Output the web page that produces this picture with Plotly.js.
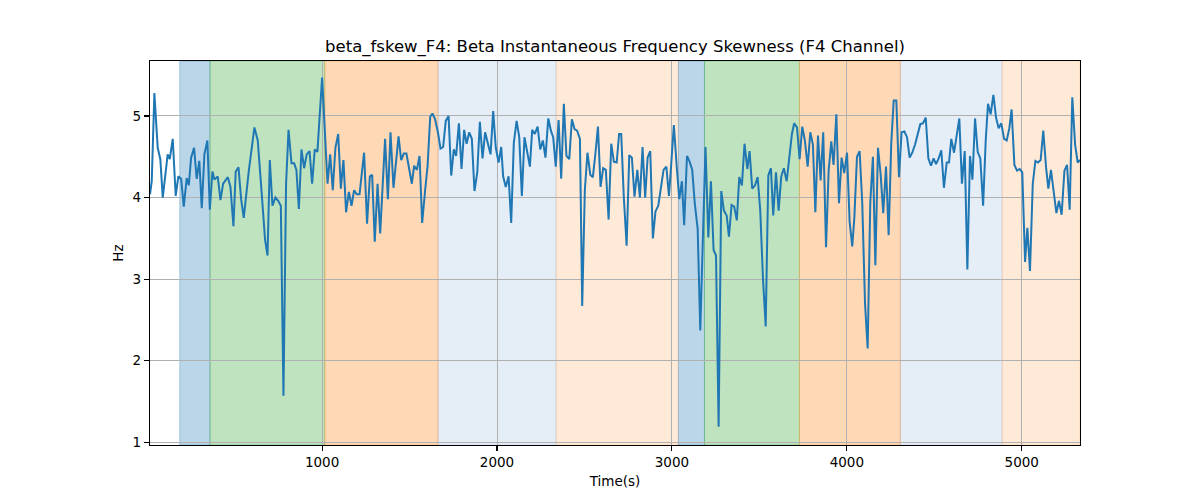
<!DOCTYPE html>
<html>
<head>
<meta charset="utf-8">
<script src="https://cdn.plot.ly/plotly-3.0.1.min.js"></script>
<style>
  html, body { margin: 0; padding: 0; background: #fff; }
  #chart { width: 1200px; height: 500px; }
</style>
</head>
<body>
<div id="chart"></div>
<script>
// Sample times (s) and beta skewness values (Hz)
const timeSec = [
  16, 26, 41, 60, 75, 89, 117, 129, 146, 163, 178, 194, 209, 226, 238, 251, 268, 283, 298, 312,
  327, 344, 358, 373, 384, 403, 419, 434, 461, 476, 493, 506, 522, 537, 552, 581, 613, 632, 655, 674,
  688, 701, 716, 733, 749, 764, 779, 794, 808, 825, 840, 853, 867, 882, 897, 912, 928, 943, 958, 973,
  1000, 1031, 1046, 1061, 1076, 1092, 1107, 1122, 1137, 1153, 1168, 1183, 1198, 1214, 1240, 1257, 1273, 1286, 1301, 1317,
  1332, 1360, 1376, 1391, 1408, 1437, 1452, 1467, 1482, 1498, 1513, 1526, 1542, 1557, 1572, 1589, 1603, 1618, 1631, 1646,
  1662, 1677, 1692, 1707, 1723, 1738, 1753, 1766, 1782, 1797, 1812, 1826, 1841, 1856, 1871, 1887, 1902, 1917, 1932, 1947,
  1963, 1978, 1993, 2009, 2024, 2035, 2050, 2066, 2081, 2096, 2112, 2127, 2142, 2157, 2173, 2188, 2201, 2216, 2232, 2247,
  2262, 2277, 2293, 2308, 2321, 2336, 2352, 2367, 2382, 2397, 2413, 2428, 2443, 2458, 2474, 2487, 2502, 2517, 2533, 2548,
  2563, 2577, 2592, 2607, 2622, 2638, 2653, 2668, 2684, 2698, 2710, 2725, 2741, 2756, 2771, 2786, 2802, 2817, 2832, 2847,
  2861, 2876, 2891, 2906, 2922, 2937, 2952, 2968, 2983, 2996, 3011, 3027, 3042, 3057, 3070, 3086, 3101, 3116, 3131, 3147,
  3162, 3177, 3192, 3208, 3223, 3238, 3252, 3267, 3282, 3297, 3313, 3326, 3341, 3356, 3371, 3385, 3400, 3415, 3431, 3444,
  3459, 3475, 3490, 3505, 3520, 3536, 3551, 3566, 3579, 3595, 3610, 3625, 3640, 3656, 3671, 3686, 3699, 3715, 3730, 3745,
  3760, 3776, 3791, 3806, 3820, 3835, 3850, 3865, 3881, 3896, 3911, 3924, 3940, 3955, 3970, 3985, 4001, 4016, 4031, 4043,
  4058, 4073, 4088, 4104, 4119, 4134, 4149, 4163, 4178, 4193, 4208, 4224, 4239, 4254, 4268, 4283, 4298, 4313, 4329, 4344,
  4359, 4374, 4390, 4405, 4420, 4435, 4451, 4466, 4481, 4496, 4510, 4525, 4540, 4555, 4571, 4584, 4597, 4613, 4628, 4643,
  4658, 4674, 4689, 4704, 4718, 4733, 4748, 4763, 4779, 4794, 4807, 4822, 4838, 4853, 4868, 4883, 4899, 4914, 4929, 4942,
  4958, 4973, 4988, 5003, 5019, 5032, 5047, 5063, 5078, 5093, 5108, 5123, 5139, 5152, 5167, 5183, 5198, 5213, 5228, 5244,
  5259, 5274, 5289, 5305, 5320, 5333
];

const skewHz = [
  4.04, 4.2, 5.28, 4.61, 4.47, 4.0, 4.53, 4.47, 4.72, 4.02, 4.26, 4.23, 3.89, 4.24, 4.15, 4.49, 4.61, 4.23, 4.45, 3.87,
  4.53, 4.70, 3.85, 4.32, 4.22, 4.26, 3.97, 4.17, 4.25, 4.13, 3.65, 4.32, 4.37, 3.98, 3.75, 4.33, 4.86, 4.70, 4.04, 3.48,
  3.29, 4.46, 3.90, 4.0, 3.96, 3.90, 1.57, 4.17, 4.83, 4.42, 4.42, 4.34, 3.86, 4.59, 4.36, 4.53, 4.57, 4.17, 4.59, 4.56,
  5.47, 4.17, 4.53, 4.09, 4.61, 4.78, 4.11, 4.46, 3.82, 4.07, 3.90, 4.09, 4.04, 4.04, 4.55, 3.68, 4.26, 4.28, 3.46, 4.17,
  3.56, 4.72, 3.98, 4.80, 4.12, 4.75, 4.46, 4.54, 4.54, 4.35, 4.17, 4.39, 4.34, 4.51, 3.69, 4.09, 4.39, 4.99, 5.03, 4.96,
  4.80, 4.60, 4.62, 4.94, 5.0, 4.27, 4.59, 4.51, 4.91, 4.35, 4.83, 4.66, 4.80, 4.72, 4.08, 4.31, 4.93, 4.48, 4.80, 4.67,
  4.53, 5.06, 4.61, 4.43, 4.62, 4.26, 4.13, 4.26, 3.69, 4.67, 4.94, 4.74, 4.02, 4.74, 4.57, 4.38, 4.83, 4.78, 4.87, 4.59,
  4.70, 4.49, 4.97, 4.82, 4.74, 4.38, 4.95, 4.23, 5.15, 4.51, 4.47, 4.96, 4.84, 4.82, 4.72, 2.67, 4.09, 4.55, 4.28, 4.25,
  4.55, 4.87, 4.13, 4.36, 4.34, 3.73, 4.66, 4.44, 4.43, 4.78, 4.78, 4.0, 3.41, 4.52, 4.49, 4.01, 4.34, 4.0, 4.62, 4.0,
  4.49, 4.57, 3.50, 3.83, 3.90, 4.15, 4.34, 4.38, 4.02, 4.41, 4.89, 4.39, 3.98, 4.20, 3.66, 4.51, 4.44, 4.34, 3.92, 3.62,
  2.37, 3.50, 4.62, 3.51, 4.20, 3.36, 3.29, 1.19, 4.08, 3.84, 3.78, 3.52, 3.91, 3.89, 3.72, 4.25, 4.15, 4.66, 4.35, 4.57,
  4.11, 4.15, 4.25, 3.84, 3.03, 2.42, 4.27, 4.36, 3.78, 4.31, 3.84, 4.26, 4.36, 4.20, 4.53, 4.78, 4.91, 4.86, 4.47, 4.87,
  4.70, 4.38, 4.80, 4.65, 3.82, 4.76, 4.21, 4.80, 3.39, 4.33, 4.69, 4.40, 5.02, 3.93, 4.49, 4.30, 4.55, 3.70, 3.40, 3.76,
  4.50, 4.57, 3.94, 2.70, 2.15, 3.94, 4.50, 3.17, 4.61, 4.29, 3.81, 4.38, 3.54, 4.67, 5.19, 5.19, 4.25, 4.80, 4.81, 4.74,
  4.49, 4.55, 4.65, 4.78, 4.90, 4.91, 4.98, 4.48, 4.39, 4.48, 4.41, 4.48, 4.58, 4.12, 4.43, 4.43, 4.72, 4.55, 4.74, 4.97,
  4.17, 4.57, 3.12, 4.51, 4.22, 4.97, 4.56, 4.48, 3.90, 4.70, 5.15, 5.02, 5.26, 4.98, 4.85, 4.91, 4.72, 4.70, 4.85, 5.08,
  4.40, 4.33, 4.35, 4.31, 3.21, 3.63, 3.10, 4.17, 4.45, 4.43, 4.46, 4.82, 4.37, 4.11, 4.34, 4.08, 3.81, 3.96, 3.79, 4.33,
  4.40, 3.85, 5.23, 4.65, 4.43, 4.46
];

// Shaded stage bands
const bandStart = [186, 359, 1015, 1663, 2338, 3037, 3186, 3729, 4306, 4888];
const bandEnd   = [359, 1015, 1663, 2338, 3037, 3186, 3729, 4306, 4888, 5333];
const bandKind  = ['blue', 'green', 'orange', 'paleblue', 'paleorange',
                   'blue', 'green', 'orange', 'paleblue', 'paleorange'];

const BAND_FILL = {
  blue:       'rgba(31,119,180,0.3)',
  green:      'rgba(44,160,44,0.3)',
  orange:     'rgba(255,127,14,0.3)',
  paleblue:   'rgba(70,130,200,0.14)',
  paleorange: 'rgba(255,127,14,0.16)',
};

const shapes = bandStart.map((x0, i) => ({
  type: 'rect',
  xref: 'x', yref: 'paper',
  x0: x0, x1: bandEnd[i],
  y0: 0, y1: 1,
  fillcolor: BAND_FILL[bandKind[i]],
  line: { width: 1, color: BAND_FILL[bandKind[i]] },
  layer: 'below',
}));

const trace = {
  x: timeSec,
  y: skewHz,
  type: 'scatter',
  mode: 'lines',
  line: { color: '#1f77b4', width: 2 },
  hoverinfo: 'skip',
};

const axisBase = {
  showline: true,
  linecolor: '#000',
  linewidth: 1.1,
  mirror: true,
  ticks: 'outside',
  ticklen: 5,
  tickwidth: 1.1,
  tickcolor: '#000',
  showgrid: true,
  gridcolor: '#b0b0b0',
  gridwidth: 1,
  zeroline: false,
  tickfont: { family: 'DejaVu Sans, sans-serif', size: 13.5, color: '#000' },
};

const layout = {
  width: 1200,
  height: 500,
  paper_bgcolor: '#fff',
  plot_bgcolor: '#fff',
  margin: { l: 150, r: 120, t: 61, b: 55, pad: 0 },
  showlegend: false,
  font: { family: 'DejaVu Sans, sans-serif', color: '#000' },
  title: {
    text: 'beta_fskew_F4: Beta Instantaneous Frequency Skewness (F4 Channel)',
    font: { family: 'DejaVu Sans, sans-serif', size: 16.5, color: '#000' },
    x: 0.5125, xanchor: 'center',
    xref: 'container',
    y: 1 - 46 / 500, yanchor: 'middle', yref: 'container',
  },
  xaxis: Object.assign({}, axisBase, {
    range: [16, 5333],
    tickvals: [1000, 2000, 3000, 4000, 5000],
    ticktext: ['1000', '2000', '3000', '4000', '5000'],
    title: { text: 'Time(s)', standoff: 7,
             font: { family: 'DejaVu Sans, sans-serif', size: 13.5, color: '#000' } },
  }),
  yaxis: Object.assign({}, axisBase, {
    range: [0.967, 5.674],
    tickvals: [1, 2, 3, 4, 5],
    ticktext: ['1', '2', '3', '4', '5'],
    title: { text: 'Hz', standoff: 5,
             font: { family: 'DejaVu Sans, sans-serif', size: 13.5, color: '#000' } },
  }),
  shapes: shapes,
};

Plotly.newPlot('chart', [trace], layout, { displayModeBar: false, staticPlot: true });
</script>
</body>
</html>
